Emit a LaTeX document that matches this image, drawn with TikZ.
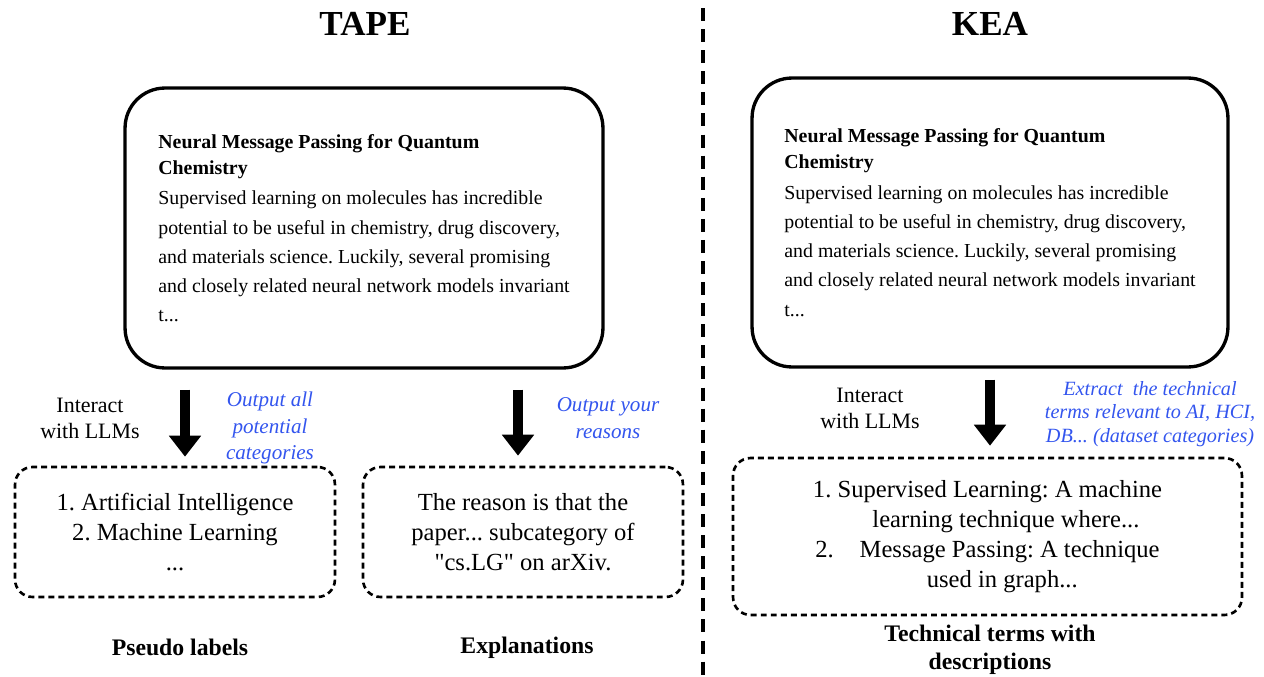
\documentclass[tikz,border=0pt]{standalone}
\usepackage{fontspec}
\setmainfont{Liberation Serif}
\newfontfamily\quotefont{Liberation Serif}
\usetikzlibrary{arrows.meta}
\definecolor{promptblue}{RGB}{51,85,238}
\frenchspacing

\begin{document}
\begin{tikzpicture}[x=0.02cm, y=-0.02cm,
  paper/.style={draw,line width=1.9pt,rounded corners=0.8cm,align=left,inner sep=0pt,font=\fontsize{11.3}{16.6}\selectfont},
  outbox/.style={draw,line width=1.5pt,dash pattern=on 3.4pt off 2.3pt,rounded corners=0.35cm,align=center,inner sep=0pt,font=\fontsize{14}{17}\selectfont},
  llm/.style={line width=0.2cm,-{Triangle[length=0.42cm,width=0.62cm]}},
  prompt/.style={promptblue,align=center,font=\fontsize{12}{15.2}\selectfont\itshape},
  talk/.style={align=center,font=\fontsize{12.5}{14.8}\selectfont},
  caption/.style={align=center,font=\fontsize{13.5}{15.8}\selectfont\bfseries},
  method/.style={font=\fontsize{20}{24}\selectfont\bfseries}]
\useasboundingbox (0,0) rectangle (1264,676);

% two methods, split by a dashed line
\node[method] (tapeT) at (365,24) {TAPE};
\node[method] (keaT) at (990,24) {KEA};
\coordinate (divtop) at (703,8);
\coordinate (divbot) at (703,676);
\draw[line width=2.3pt,dash pattern=on 7.4pt off 4.6pt] (divtop) -- (divbot);

% input papers
\node[paper,minimum width=9.56cm,minimum height=5.6cm] (tape) at (364,228)
  {\textbf{Neural Message Passing for Quantum}\\[-1.6pt]
   \textbf{Chemistry}\\[0.8pt]
   Supervised learning on molecules has incredible\\
   potential to be useful in chemistry, drug discovery,\\
   and materials science. Luckily, several promising\\
   and closely related neural network models invariant\\
   t...};
\node[paper,minimum width=9.52cm,minimum height=5.78cm] (kea) at (990,222.5)
  {\textbf{Neural Message Passing for Quantum}\\[-1.6pt]
   \textbf{Chemistry}\\[0.8pt]
   Supervised learning on molecules has incredible\\
   potential to be useful in chemistry, drug discovery,\\
   and materials science. Luckily, several promising\\
   and closely related neural network models invariant\\
   t...};

% LLM outputs
\node[outbox,minimum width=6.4cm,minimum height=2.6cm] (pseudo) at (175,532)
  {1. Artificial Intelligence\\2. Machine Learning\\...};
\node[outbox,minimum width=6.4cm,minimum height=2.6cm] (expl) at (523,532)
  {The reason is that the\\paper... subcategory of\\{\quotefont"}cs.LG{\quotefont"} on arXiv.};
\node[outbox,minimum width=10.18cm,minimum height=3.14cm] (terms) at (987.5,536.5)
  {1. Supervised Learning: A machine\\
   \hspace*{1.5em}learning technique where...\\
   2.\hspace{0.8em} Message Passing: A technique\\
   \hspace*{1.2em}used in graph...};

\draw[llm] ([xshift=0.2cm,yshift=-0.4cm]tape.south -| pseudo.north) -- ([xshift=0.2cm,yshift=0.18cm]pseudo.north);
\draw[llm] ([xshift=-0.1cm,yshift=-0.4cm]tape.south -| expl.north) -- ([xshift=-0.1cm,yshift=0.2cm]expl.north);
\draw[llm] ([xshift=0.05cm,yshift=-0.22cm]kea.south -| terms.north) -- ([xshift=0.05cm,yshift=0.22cm]terms.north);

\node[talk] (ask1) at (90,418) {Interact\\with LLMs};
\node[talk] (ask2) at (870,408) {Interact\\with LLMs};
\node[prompt] (p1) at (270,428) {Output all\\potential\\categories};
\node[prompt] (p2) at (608,418) {Output your\\reasons};
\node[prompt,font=\fontsize{11.5}{13.4}\selectfont\itshape] (p3) at (1150,414)
  {Extract\ \ the technical\\terms relevant to AI, HCI,\\DB... (dataset categories)};

\node[caption] (c1) at (180,647) {Pseudo labels};
\node[caption] (c2) at (527,648) {Explanations};
\node[caption] (c3) at (990,650) {Technical terms with\\descriptions};
\end{tikzpicture}
\end{document}
